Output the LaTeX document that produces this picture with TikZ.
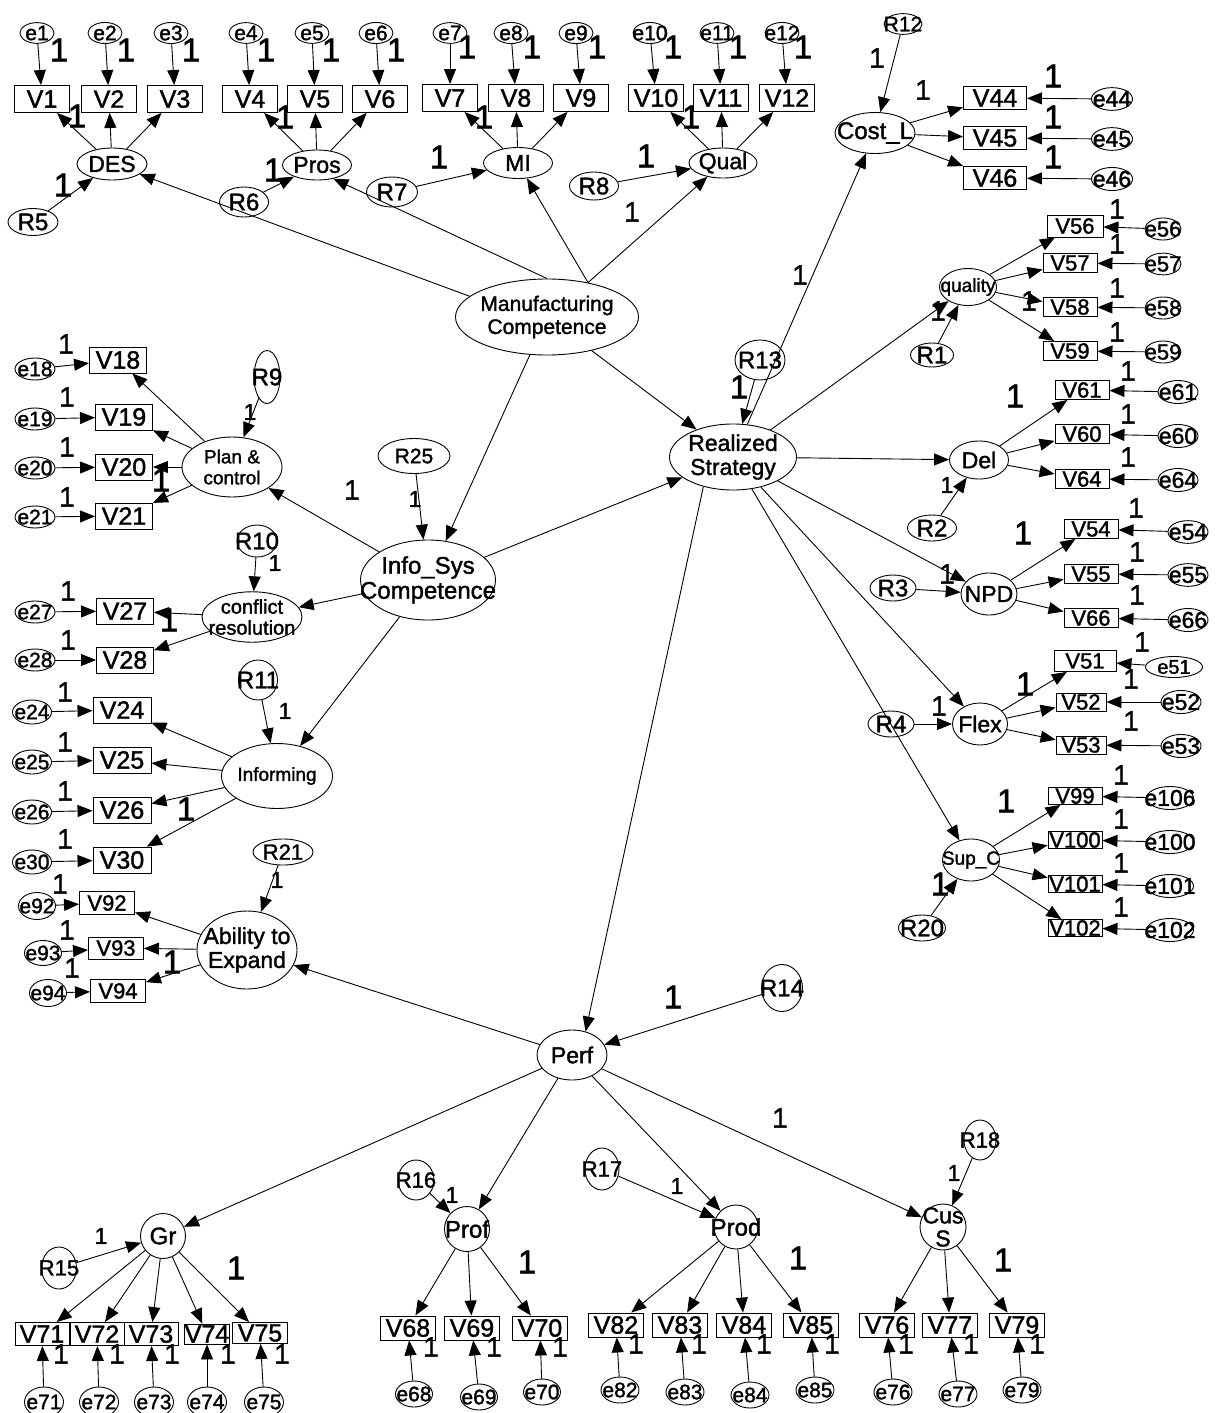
\documentclass[tikz,border=0pt]{standalone}
\usepackage{fontspec}
\setmainfont{Liberation Sans}[FakeBold=1.5]
\usetikzlibrary{arrows.meta,shapes.geometric,positioning}
\newcommand{\ctext}[1]{\makebox[0pt]{#1}}

\begin{document}
\begin{tikzpicture}[x=1pt,y=-1pt,>={Triangle[length=15pt,width=12pt]},line width=0.9pt,
  every node/.style={inner sep=0pt},
  obs/.style={draw,rectangle,minimum width=55pt,minimum height=27pt,font=\fontsize{25}{25}\selectfont},
  obsr/.style={draw,rectangle,minimum width=54pt,minimum height=19pt,font=\fontsize{22}{22}\selectfont},
  err/.style={draw,ellipse,minimum width=34pt,minimum height=20pt,font=\fontsize{21}{21}\selectfont},
  errr/.style={draw,ellipse,minimum width=40pt,minimum height=21pt,font=\fontsize{23}{23}\selectfont},
  res/.style={draw,ellipse,minimum width=48pt,minimum height=28pt,font=\fontsize{24}{24}\selectfont},
  lat/.style={draw,ellipse,align=center,font=\fontsize{23}{25}\selectfont},
  big/.style={font=\fontsize{33}{33}\selectfont},
  mid/.style={font=\fontsize{28}{28}\selectfont},
  sml/.style={font=\fontsize{23}{23}\selectfont}]
\useasboundingbox (0,0) rectangle (1221,1413);

% top row: errors and items
\node[err] (e1) at (37,33) {\ctext{e1}};
\node[err] (e2) at (105,33) {\ctext{e2}};
\node[err] (e3) at (171,33) {\ctext{e3}};
\node[err] (e4) at (246,33) {\ctext{e4}};
\node[err] (e5) at (312,33) {\ctext{e5}};
\node[err] (e6) at (376,33) {\ctext{e6}};
\node[err] (e7) at (450,33) {\ctext{e7}};
\node[err] (e8) at (511,33) {\ctext{e8}};
\node[err] (e9) at (576,33) {\ctext{e9}};
\node[err] (e10) at (650,33) {\ctext{e10}};
\node[err] (e11) at (717,33) {\ctext{e11}};
\node[err] (e12) at (782,33) {\ctext{e12}};
\node[obs] (v1) at (42,99) {V1};
\node[obs] (v2) at (109,99) {V2};
\node[obs] (v3) at (175,99) {V3};
\node[obs] (v4) at (250,99) {V4};
\node[obs] (v5) at (315,99) {V5};
\node[obs] (v6) at (380,99) {V6};
\node[obs] (v7) at (450,98) {V7};
\node[obs] (v8) at (516,98) {V8};
\node[obs] (v9) at (581,98) {V9};
\node[obs] (v10) at (656,98) {V10};
\node[obs] (v11) at (721,98) {V11};
\node[obs] (v12) at (787,98) {V12};
\path[->] (e1) edge (v1) (e2) edge (v2) (e3) edge (v3) (e4) edge (v4) (e5) edge (v5) (e6) edge (v6);
\path[->] (e7) edge (v7) (e8) edge (v8) (e9) edge (v9) (e10) edge (v10) (e11) edge (v11) (e12) edge (v12);
\node[big] (l1) at (59,50) {1};
\node[big] (l2) at (126,50) {1};
\node[big] (l3) at (191,50) {1};
\node[big] (l4) at (266,50) {1};
\node[big] (l5) at (331,50) {1};
\node[big] (l6) at (396,50) {1};
\node[big] (l7) at (467,47) {1};
\node[big] (l8) at (532,47) {1};
\node[big] (l9) at (597,47) {1};
\node[big] (l10) at (673,47) {1};
\node[big] (l11) at (738,47) {1};
\node[big] (l12) at (803,47) {1};

% first order factors, top
\node[lat,minimum width=70pt,minimum height=32pt] (des) at (112,164) {\ctext{DES}};
\node[lat,minimum width=69pt,minimum height=30pt] (pros) at (317,165) {\ctext{Pros}};
\node[lat,minimum width=69pt,minimum height=31pt] (mi) at (518,163) {\ctext{MI}};
\node[lat,minimum width=68pt,minimum height=30pt] (qual) at (723,163) {\ctext{Qual}};
\path[->] (des) edge (v1) edge (v2) edge (v3);
\path[->] (pros) edge (v4) edge (v5) edge (v6);
\path[->] (mi) edge (v7) edge (v8) edge (v9);
\path[->] (qual) edge (v10) edge (v11) edge (v12);
\node[big] (l13) at (77,116) {1};
\node[big] (l14) at (285,117) {1};
\node[big] (l15) at (484,117) {1};
\node[big] (l16) at (691,117) {1};
\node[res,minimum width=50pt,minimum height=27pt] (r5) at (33,222) {\ctext{R5}};
\node[res,minimum width=49pt,minimum height=30pt] (r6) at (244,202) {\ctext{R6}};
\node[res,minimum width=51pt,minimum height=30pt] (r7) at (392,192) {\ctext{R7}};
\node[res,minimum width=49pt,minimum height=28pt] (r8) at (594,186) {\ctext{R8}};
\path[->] (r5) edge (des) (r6) edge (pros) (r7) edge (mi) (r8) edge (qual);
\node[big] (l17) at (63,185) {1};
\node[big] (l18) at (273,170) {1};
\node[big] (l19) at (439,157) {1};
\node[big] (l20) at (646,156) {1};

\node[lat,minimum width=183pt,minimum height=76pt,font=\fontsize{21}{23}\selectfont] (mc) at (547,317) {\ctext{Manufacturing}\\\ctext{Competence}};
\path[->] (mc.165) edge (des) (mc.90) edge (pros.-40) (mc.40) edge (mi) (mc.40) edge (qual);
\node[mid] (l21) at (632,212) {1};

% cost
\node[res,minimum width=38pt,minimum height=20pt,font=\fontsize{21}{21}\selectfont] (r12) at (903,24) {\ctext{R12}};
\node[lat,minimum width=80pt,minimum height=41pt,font=\fontsize{24}{24}\selectfont] (cost) at (875,133) {\ctext{Cost\_L}};
\node[obs,minimum width=63pt,minimum height=23pt] (v44) at (995,98) {V44};
\node[obs,minimum width=63pt,minimum height=23pt] (v45) at (995,138) {V45};
\node[obs,minimum width=63pt,minimum height=23pt] (v46) at (995,178) {V46};
\node[errr,minimum width=41pt,minimum height=22pt] (e44) at (1112,99) {\ctext{e44}};
\node[errr,minimum width=41pt,minimum height=22pt] (e45) at (1112,139) {\ctext{e45}};
\node[errr,minimum width=41pt,minimum height=22pt] (e46) at (1112,179) {\ctext{e46}};
\path[->] (r12) edge (cost) (cost) edge (v44) edge (v45) edge (v46);
\path[->] (e44) edge (v44) (e45) edge (v45) (e46) edge (v46);
\node[mid] (l22) at (877,58) {1};
\node[mid] (l23) at (923,90) {1};
\node[big] (l24) at (1053,76) {1};
\node[big] (l25) at (1053,117) {1};
\node[big] (l26) at (1053,157) {1};

% quality
\node[lat,minimum width=57pt,minimum height=37pt,font=\fontsize{19}{19}\selectfont] (quality) at (968,287) {\ctext{quality}};
\node[obsr,minimum width=56pt,minimum height=22pt] (v56) at (1075,226) {V56};
\node[obsr] (v57) at (1070,263) {V57};
\node[obsr] (v58) at (1070,307) {V58};
\node[obsr] (v59) at (1070,351) {V59};
\node[errr,minimum width=36pt,minimum height=20pt,font=\fontsize{22}{22}\selectfont] (e56) at (1163,229) {\ctext{e56}};
\node[errr,minimum width=36pt,minimum height=20pt,font=\fontsize{22}{22}\selectfont] (e57) at (1163,264) {\ctext{e57}};
\node[errr,minimum width=36pt,minimum height=20pt,font=\fontsize{22}{22}\selectfont] (e58) at (1163,308) {\ctext{e58}};
\node[errr,minimum width=36pt,minimum height=20pt,font=\fontsize{22}{22}\selectfont] (e59) at (1163,352) {\ctext{e59}};
\node[res,minimum width=43pt,minimum height=24pt] (r1) at (932,355) {\ctext{R1}};
\path[->] (quality) edge (v56) edge (v57) edge (v58) edge (v59);
\path[->] (e56) edge (v56) (e57) edge (v57) (e58) edge (v58) (e59) edge (v59);
\path[->] (r1) edge (quality);
\node[mid] (l27) at (1117,209) {1};
\node[mid] (l28) at (1117,244) {1};
\node[mid] (l29) at (1117,288) {1};
\node[mid] (l30) at (1117,332) {1};
\node[mid] (l31) at (938,311) {1};
\node[mid] (l32) at (1029,301) {1};

% realized strategy
\node[lat,minimum width=127pt,minimum height=66pt,font=\fontsize{23}{24}\selectfont] (rs) at (733,457) {\ctext{Realized}\\\ctext{Strategy}};
\node[res,minimum width=50pt,minimum height=40pt] (r13) at (760,360) {\ctext{R13}};
\path[->] (r13) edge (rs);
\node[big] (l33) at (739,387) {1};
\path[->] (mc) edge (rs) (rs) edge (cost) edge (quality);
\node[mid] (l34) at (800,275) {1};

% delivery
\node[lat,minimum width=59pt,minimum height=38pt] (del) at (979,460) {\ctext{Del}};
\node[obsr] (v61) at (1082,390) {V61};
\node[obsr] (v60) at (1082,434) {V60};
\node[obsr] (v64) at (1082,479) {V64};
\node[errr] (e61) at (1178,392) {\ctext{e61}};
\node[errr] (e60) at (1178,436) {\ctext{e60}};
\node[errr] (e64) at (1178,480) {\ctext{e64}};
\node[res,minimum width=49pt,minimum height=26pt] (r2) at (932,528) {\ctext{R2}};
\path[->] (rs) edge (del) (r2) edge (del) (del) edge (v61) edge (v60) edge (v64);
\path[->] (e61) edge (v61) (e60) edge (v60) (e64) edge (v64);
\node[mid] (l35) at (1128,371) {1};
\node[mid] (l36) at (1128,414) {1};
\node[mid] (l37) at (1128,457) {1};
\node[big] (l38) at (1015,396) {1};
\node[sml] (l39) at (947,485) {1};

% new product development
\node[lat,minimum width=56pt,minimum height=42pt] (npd) at (989,594) {\ctext{NPD}};
\node[obsr] (v54) at (1091,529) {V54};
\node[obsr] (v55) at (1091,574) {V55};
\node[obsr] (v66) at (1091,618) {V66};
\node[errr] (e54) at (1188,532) {\ctext{e54}};
\node[errr] (e55) at (1188,575) {\ctext{e55}};
\node[errr] (e66) at (1188,620) {\ctext{e66}};
\node[res,minimum width=46pt,minimum height=26pt] (r3) at (893,588) {\ctext{R3}};
\path[->] (rs) edge (npd) (r3) edge (npd) (npd) edge (v54) edge (v55) edge (v66);
\path[->] (e54) edge (v54) (e55) edge (v55) (e66) edge (v66);
\node[mid] (l40) at (1136,508) {1};
\node[mid] (l41) at (1137,552) {1};
\node[mid] (l42) at (1137,595) {1};
\node[big] (l43) at (1023,533) {1};
\node[mid] (l44) at (947,574) {1};

% flexibility
\node[lat,minimum width=55pt,minimum height=42pt] (flex) at (980,724) {\ctext{Flex}};
\node[obsr,minimum width=62pt,minimum height=21pt] (v51) at (1085,661) {V51};
\node[obsr,minimum width=50pt,minimum height=18pt] (v52) at (1081,702) {V52};
\node[obsr,minimum width=50pt,minimum height=18pt] (v53) at (1081,745) {V53};
\node[errr,minimum width=57pt,font=\fontsize{20}{20}\selectfont] (e51) at (1174,667) {\ctext{e51}};
\node[errr] (e52) at (1181,702) {\ctext{e52}};
\node[errr] (e53) at (1181,746) {\ctext{e53}};
\node[res,minimum width=46pt,minimum height=26pt] (r4) at (891,724) {\ctext{R4}};
\path[->] (rs) edge (flex) (r4) edge (flex) (flex) edge (v51) edge (v52) edge (v53);
\path[->] (e51) edge (v51) (e52) edge (v52) (e53) edge (v53);
\node[mid] (l45) at (1142,642) {1};
\node[mid] (l46) at (1131,679) {1};
\node[mid] (l47) at (1131,721) {1};
\node[big] (l48) at (1025,684) {1};
\node[mid] (l49) at (939,706) {1};

% supplier
\node[lat,minimum width=57pt,minimum height=42pt,font=\fontsize{19}{19}\selectfont] (supc) at (971,860) {\ctext{Sup\_C}};
\node[obsr,minimum height=17pt] (v99) at (1075,796) {V99};
\node[obsr,minimum height=17pt] (v100) at (1075,840) {V100};
\node[obsr,minimum height=17pt] (v101) at (1075,884) {V101};
\node[obsr,minimum height=17pt] (v102) at (1075,928) {V102};
\node[errr,minimum width=47pt] (e106) at (1170,798) {\ctext{e106}};
\node[errr,minimum width=47pt] (e100) at (1170,842) {\ctext{e100}};
\node[errr,minimum width=47pt] (e101) at (1170,886) {\ctext{e101}};
\node[errr,minimum width=47pt] (e102) at (1170,930) {\ctext{e102}};
\node[res,minimum width=47pt,minimum height=26pt] (r20) at (922,928) {\ctext{R20}};
\path[->] (rs) edge (supc) (r20) edge (supc) (supc) edge (v99) edge (v100) edge (v101) edge (v102);
\path[->] (e106) edge (v99) (e100) edge (v100) (e101) edge (v101) (e102) edge (v102);
\node[mid] (l50) at (1121,775) {1};
\node[mid] (l51) at (1121,819) {1};
\node[mid] (l52) at (1121,863) {1};
\node[mid] (l53) at (1121,907) {1};
\node[big] (l54) at (1006,801) {1};
\node[big] (l55) at (940,884) {1};

% info system competence
\node[lat,minimum width=135pt,minimum height=80pt,font=\fontsize{24}{25}\selectfont] (isc) at (428,580) {\ctext{Info\_Sys}\\\ctext{Competence}};
\node[res,minimum width=72pt,minimum height=35pt,font=\fontsize{21}{21}\selectfont] (r25) at (414,456) {\ctext{R25}};
\path[->] (r25) edge (isc) (mc) edge (isc) (isc) edge (rs);
\node[sml] (l56) at (415,499) {1};

% planning and control
\node[lat,minimum width=100pt,minimum height=60pt,font=\fontsize{19}{21}\selectfont] (plan) at (232,467) {\ctext{Plan \&}\\\ctext{control}};
\node[obs,minimum width=57pt,minimum height=26pt] (v18) at (118,360) {V18};
\node[obs,minimum width=57pt,minimum height=26pt] (v19) at (124,417) {V19};
\node[obs,minimum width=57pt,minimum height=26pt] (v20) at (124,467) {V20};
\node[obs,minimum width=57pt,minimum height=26pt] (v21) at (124,516) {V21};
\node[err,minimum width=40pt,minimum height=22pt] (e18) at (35,369) {\ctext{e18}};
\node[err,minimum width=40pt,minimum height=22pt] (e19) at (35,419) {\ctext{e19}};
\node[err,minimum width=40pt,minimum height=22pt] (e20) at (35,468) {\ctext{e20}};
\node[err,minimum width=40pt,minimum height=22pt] (e21) at (35,517) {\ctext{e21}};
\node[res,minimum width=26pt,minimum height=53pt] (r9) at (267,377) {\ctext{R9}};
\path[->] (isc) edge (plan) (r9) edge (plan) (plan) edge (v18) edge (v19) edge (v20) edge (v21);
\path[->] (e18) edge (v18) (e19) edge (v19) (e20) edge (v20) (e21) edge (v21);
\node[mid] (l57) at (66,344) {1};
\node[mid] (l58) at (67,397) {1};
\node[mid] (l59) at (67,447) {1};
\node[mid] (l60) at (67,497) {1};
\node[big] (l61) at (161,480) {1};
\node[sml] (l62) at (250,412) {1};
\node[mid] (l63) at (352,490) {1};

% conflict resolution
\node[lat,minimum width=100pt,minimum height=50pt,font=\fontsize{20}{21}\selectfont] (conf) at (252,617) {\ctext{conflict}\\\ctext{resolution}};
\node[obs,minimum width=57pt,minimum height=26pt] (v27) at (125,611) {V27};
\node[obs,minimum width=57pt,minimum height=26pt] (v28) at (125,660) {V28};
\node[err,minimum width=40pt,minimum height=22pt] (e27) at (35,612) {\ctext{e27}};
\node[err,minimum width=40pt,minimum height=22pt] (e28) at (35,660) {\ctext{e28}};
\node[res,minimum width=40pt,minimum height=32pt] (r10) at (257,541) {\ctext{R10}};
\path[->] (isc) edge (conf) (r10) edge (conf) (conf) edge (v27) edge (v28);
\path[->] (e27) edge (v27) (e28) edge (v28);
\node[mid] (l64) at (68,591) {1};
\node[mid] (l65) at (68,640) {1};
\node[big] (l66) at (169,620) {1};
\node[sml] (l67) at (275,563) {1};

% informing
\node[lat,minimum width=111pt,minimum height=65pt,font=\fontsize{19}{19}\selectfont] (inform) at (277,776) {\ctext{Informing}};
\node[obs,minimum width=58pt,minimum height=26pt] (v24) at (122,710) {V24};
\node[obs,minimum width=58pt,minimum height=26pt] (v25) at (122,760) {V25};
\node[obs,minimum width=58pt,minimum height=26pt] (v26) at (122,810) {V26};
\node[obs,minimum width=58pt,minimum height=26pt] (v30) at (122,860) {V30};
\node[err,minimum width=39pt,minimum height=24pt] (e24) at (32,712) {\ctext{e24}};
\node[err,minimum width=39pt,minimum height=24pt] (e25) at (32,762) {\ctext{e25}};
\node[err,minimum width=39pt,minimum height=24pt] (e26) at (32,812) {\ctext{e26}};
\node[err,minimum width=39pt,minimum height=24pt] (e30) at (32,862) {\ctext{e30}};
\node[res,minimum width=39pt,minimum height=40pt] (r11) at (258,680) {\ctext{R11}};
\path[->] (isc) edge (inform) (r11) edge (inform) (inform) edge (v24) edge (v25) edge (v26) edge (v30);
\path[->] (e24) edge (v24) (e25) edge (v25) (e26) edge (v26) (e30) edge (v30);
\node[mid] (l68) at (65,692) {1};
\node[mid] (l69) at (65,742) {1};
\node[mid] (l70) at (65,791) {1};
\node[mid] (l71) at (65,839) {1};
\node[big] (l72) at (186,809) {1};
\node[sml] (l73) at (285,711) {1};

% ability to expand
\node[lat,minimum width=100pt,minimum height=78pt,font=\fontsize{23}{24}\selectfont] (abil) at (247,950) {\ctext{Ability to}\\\ctext{Expand}};
\node[obs,minimum height=23pt,font=\fontsize{22}{22}\selectfont] (v92) at (107,903) {V92};
\node[obs,minimum height=22pt,font=\fontsize{22}{22}\selectfont] (v93) at (116,948) {V93};
\node[obs,minimum height=23pt,font=\fontsize{22}{22}\selectfont] (v94) at (118,991) {V94};
\node[err,minimum width=37pt,minimum height=27pt] (e92) at (37,906) {\ctext{e92}};
\node[err,minimum width=37pt,minimum height=25pt] (e93) at (43,953) {\ctext{e93}};
\node[err,minimum width=37pt,minimum height=27pt] (e94) at (48,993) {\ctext{e94}};
\node[res,minimum width=60pt,minimum height=26pt,font=\fontsize{22}{22}\selectfont] (r21) at (283,852) {\ctext{R21}};
\path[->] (r21) edge (abil) (abil) edge (v92) edge (v93) edge (v94);
\path[->] (e92) edge (v92) (e93) edge (v93) (e94) edge (v94);
\node[mid] (l74) at (60,884) {1};
\node[mid] (l75) at (67,930) {1};
\node[mid] (l76) at (72,968) {1};
\node[big] (l77) at (172,962) {1};
\node[sml] (l78) at (277,880) {1};

% performance
\node[lat,minimum width=70pt,minimum height=50pt] (perf) at (572,1055) {\ctext{Perf}};
\node[res,minimum width=41pt,minimum height=47pt] (r14) at (782,988) {\ctext{R14}};
\path[->] (rs.225) edge (perf.60) (r14) edge (perf) (perf) edge (abil);
\node[big] (l79) at (673,997) {1};

% growth
\node[lat,circle,minimum size=45pt,font=\fontsize{24}{24}\selectfont] (gr) at (163,1236) {\ctext{Gr}};
\node[res,minimum width=35pt,minimum height=42pt,font=\fontsize{22}{22}\selectfont] (r15) at (59,1268) {\ctext{R15}};
\node[obs,minimum width=54pt,minimum height=23pt] (v71) at (42,1334) {V71};
\node[obs,minimum width=54pt,minimum height=23pt] (v72) at (97,1334) {V72};
\node[obs,minimum width=54pt,minimum height=23pt] (v73) at (151,1334) {V73};
\node[obs,minimum width=32pt,minimum height=20pt] (v74) at (207,1334) {V74};
\node[obs,minimum width=55pt,minimum height=21pt] (v75) at (260,1333) {V75};
\node[err,minimum width=39pt,minimum height=30pt] (e71) at (44,1402) {\ctext{e71}};
\node[err,minimum width=39pt,minimum height=30pt] (e72) at (99,1402) {\ctext{e72}};
\node[err,minimum width=39pt,minimum height=30pt] (e73) at (154,1402) {\ctext{e73}};
\node[err,minimum width=39pt,minimum height=30pt] (e74) at (207,1402) {\ctext{e74}};
\node[err,minimum width=39pt,minimum height=30pt] (e75) at (264,1402) {\ctext{e75}};
\path[->] (perf) edge (gr) (r15) edge (gr) (gr) edge (v71) edge (v72) edge (v73) edge (v74) edge (v75);
\path[->] (e71) edge (v71) (e72) edge (v72) (e73) edge (v73) (e74) edge (v74) (e75) edge (v75);
\node[mid] (l80) at (61,1354) {1};
\node[mid] (l81) at (117,1354) {1};
\node[mid] (l82) at (172,1354) {1};
\node[mid] (l83) at (228,1354) {1};
\node[mid] (l84) at (282,1354) {1};
\node[big] (l85) at (236,1268) {1};
\node[sml] (l86) at (101,1236) {1};

% profit
\node[lat,circle,minimum size=45pt,font=\fontsize{24}{24}\selectfont] (prof) at (467,1229) {\ctext{Prof}};
\node[res,minimum width=36pt,minimum height=40pt,font=\fontsize{22}{22}\selectfont] (r16) at (416,1180) {\ctext{R16}};
\node[obs,minimum width=55pt,minimum height=24pt] (v68) at (408,1328) {V68};
\node[obs,minimum width=55pt,minimum height=24pt] (v69) at (472,1328) {V69};
\node[obs,minimum width=55pt,minimum height=24pt] (v70) at (540,1328) {V70};
\node[err,minimum width=37pt,minimum height=26pt] (e68) at (414,1394) {\ctext{e68}};
\node[err,minimum width=37pt,minimum height=26pt] (e69) at (479,1397) {\ctext{e69}};
\node[err,minimum width=37pt,minimum height=26pt] (e70) at (542,1392) {\ctext{e70}};
\path[->] (perf) edge (prof) (r16) edge (prof) (prof) edge (v68) edge (v69) edge (v70);
\path[->] (e68) edge (v68) (e69) edge (v69) (e70) edge (v70);
\node[mid] (l87) at (431,1347) {1};
\node[mid] (l88) at (494,1347) {1};
\node[mid] (l89) at (560,1347) {1};
\node[big] (l90) at (527,1262) {1};
\node[sml] (l91) at (452,1195) {1};

% productivity
\node[lat,circle,minimum size=44pt,font=\fontsize{24}{24}\selectfont] (prod) at (736,1227) {\ctext{Prod}};
\node[res,minimum width=34pt,minimum height=42pt,font=\fontsize{22}{22}\selectfont] (r17) at (602,1169) {\ctext{R17}};
\node[obs,minimum width=55pt,minimum height=24pt] (v82) at (616,1325) {V82};
\node[obs,minimum width=55pt,minimum height=24pt] (v83) at (680,1325) {V83};
\node[obs,minimum width=55pt,minimum height=24pt] (v84) at (744,1325) {V84};
\node[obs,minimum width=55pt,minimum height=24pt] (v85) at (811,1325) {V85};
\node[err,minimum width=38pt,minimum height=26pt] (e82) at (620,1390) {\ctext{e82}};
\node[err,minimum width=38pt,minimum height=26pt] (e83) at (685,1392) {\ctext{e83}};
\node[err,minimum width=38pt,minimum height=26pt] (e84) at (750,1395) {\ctext{e84}};
\node[err,minimum width=38pt,minimum height=26pt] (e85) at (815,1390) {\ctext{e85}};
\path[->] (perf) edge (prod) (r17) edge (prod) (prod) edge (v82) edge (v83) edge (v84) edge (v85);
\path[->] (e82) edge (v82) (e83) edge (v83) (e84) edge (v84) (e85) edge (v85);
\node[mid] (l92) at (636,1344) {1};
\node[mid] (l93) at (699,1344) {1};
\node[mid] (l94) at (764,1344) {1};
\node[mid] (l95) at (832,1344) {1};
\node[big] (l96) at (798,1258) {1};
\node[sml] (l97) at (677,1186) {1};

% customer satisfaction
\node[lat,circle,minimum size=46pt,font=\fontsize{23}{23}\selectfont] (cuss) at (943,1227) {\ctext{Cus}\\\ctext{S}};
\node[res,minimum width=32pt,minimum height=40pt,font=\fontsize{22}{22}\selectfont] (r18) at (980,1140) {\ctext{R18}};
\node[obs,minimum width=55pt,minimum height=24pt] (v76) at (887,1325) {V76};
\node[obs,minimum width=55pt,minimum height=24pt] (v77) at (950,1325) {V77};
\node[obs,minimum width=55pt,minimum height=24pt] (v79) at (1017,1325) {V79};
\node[err,minimum width=38pt,minimum height=26pt] (e76) at (893,1392) {\ctext{e76}};
\node[err,minimum width=38pt,minimum height=26pt] (e77) at (958,1394) {\ctext{e77}};
\node[err,minimum width=38pt,minimum height=26pt] (e79) at (1022,1390) {\ctext{e79}};
\path[->] (perf) edge (cuss) (r18) edge (cuss) (cuss) edge (v76) edge (v77) edge (v79);
\path[->] (e76) edge (v76) (e77) edge (v77) (e79) edge (v79);
\node[mid] (l98) at (906,1344) {1};
\node[mid] (l99) at (971,1344) {1};
\node[mid] (l100) at (1037,1344) {1};
\node[big] (l101) at (1003,1260) {1};
\node[sml] (l102) at (954,1173) {1};
\node[mid] (l103) at (780,1118) {1};
\end{tikzpicture}
\end{document}
